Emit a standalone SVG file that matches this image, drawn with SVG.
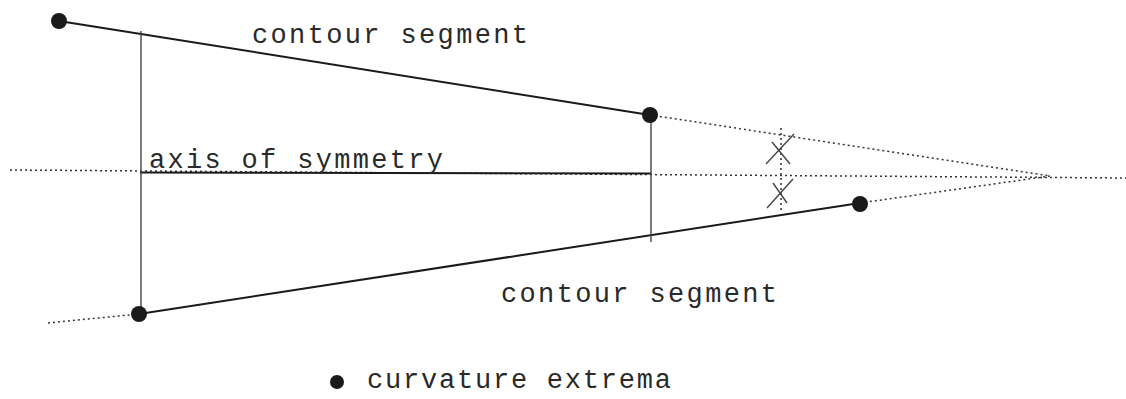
<svg xmlns="http://www.w3.org/2000/svg" width="1126" height="399" viewBox="0 0 1126 399">
<style>
.solid{stroke:#1a1a1a;stroke-width:2;fill:none}
.thin{stroke:#444;stroke-width:1.4;fill:none}
.dot{stroke:#333;stroke-width:1.5;stroke-dasharray:2 3;fill:none}
.pt{fill:#1a1a1a}
.lbl{font-family:"Liberation Mono","DejaVu Sans Mono",monospace;font-size:27px;fill:#2a2a2a}
</style>
<rect width="1126" height="399" fill="#fff"/>
<g id="connectors">
<line class="dot" x1="10" y1="170" x2="1126" y2="178"/>
<line class="dot" x1="650" y1="115" x2="1050" y2="176"/>
<line class="dot" x1="860" y1="203" x2="1050" y2="176"/>
<line class="dot" x1="48" y1="323" x2="139" y2="314"/>
<line class="dot" x1="781" y1="128" x2="781" y2="213"/>
<line class="solid" x1="59" y1="21" x2="650" y2="115"/>
<line class="solid" x1="139" y1="314" x2="860" y2="203"/>
<line class="solid" x1="140" y1="172.5" x2="651" y2="173.5"/>
<line class="thin" x1="141" y1="31" x2="141" y2="314"/>
<line class="thin" x1="651" y1="115" x2="651" y2="242"/>
<line class="thin" x1="772" y1="142" x2="790" y2="164"/>
<line class="thin" x1="766" y1="164" x2="794" y2="134"/>
<line class="thin" x1="773" y1="183" x2="787" y2="203"/>
<line class="thin" x1="767" y1="208" x2="793" y2="179"/>
</g>
<g id="p1"><circle class="pt" cx="59" cy="21" r="8"/></g>
<g id="p2"><circle class="pt" cx="650" cy="115" r="8"/></g>
<g id="p3"><circle class="pt" cx="860" cy="204" r="8"/></g>
<g id="p4"><circle class="pt" cx="139" cy="314" r="8"/></g>
<g id="label-top"><text class="lbl" x="252" y="43" textLength="276" lengthAdjust="spacing">contour segment</text></g>
<g id="label-axis"><text class="lbl" x="149" y="168" textLength="294" lengthAdjust="spacing">axis of symmetry</text></g>
<g id="label-bottom"><text class="lbl" x="501" y="302" textLength="276" lengthAdjust="spacing">contour segment</text></g>
<g id="legend">
<circle class="pt" cx="337" cy="382" r="7"/>
<text class="lbl" x="367" y="388" font-size="25" textLength="304" lengthAdjust="spacing">curvature extrema</text>
</g>
</svg>
